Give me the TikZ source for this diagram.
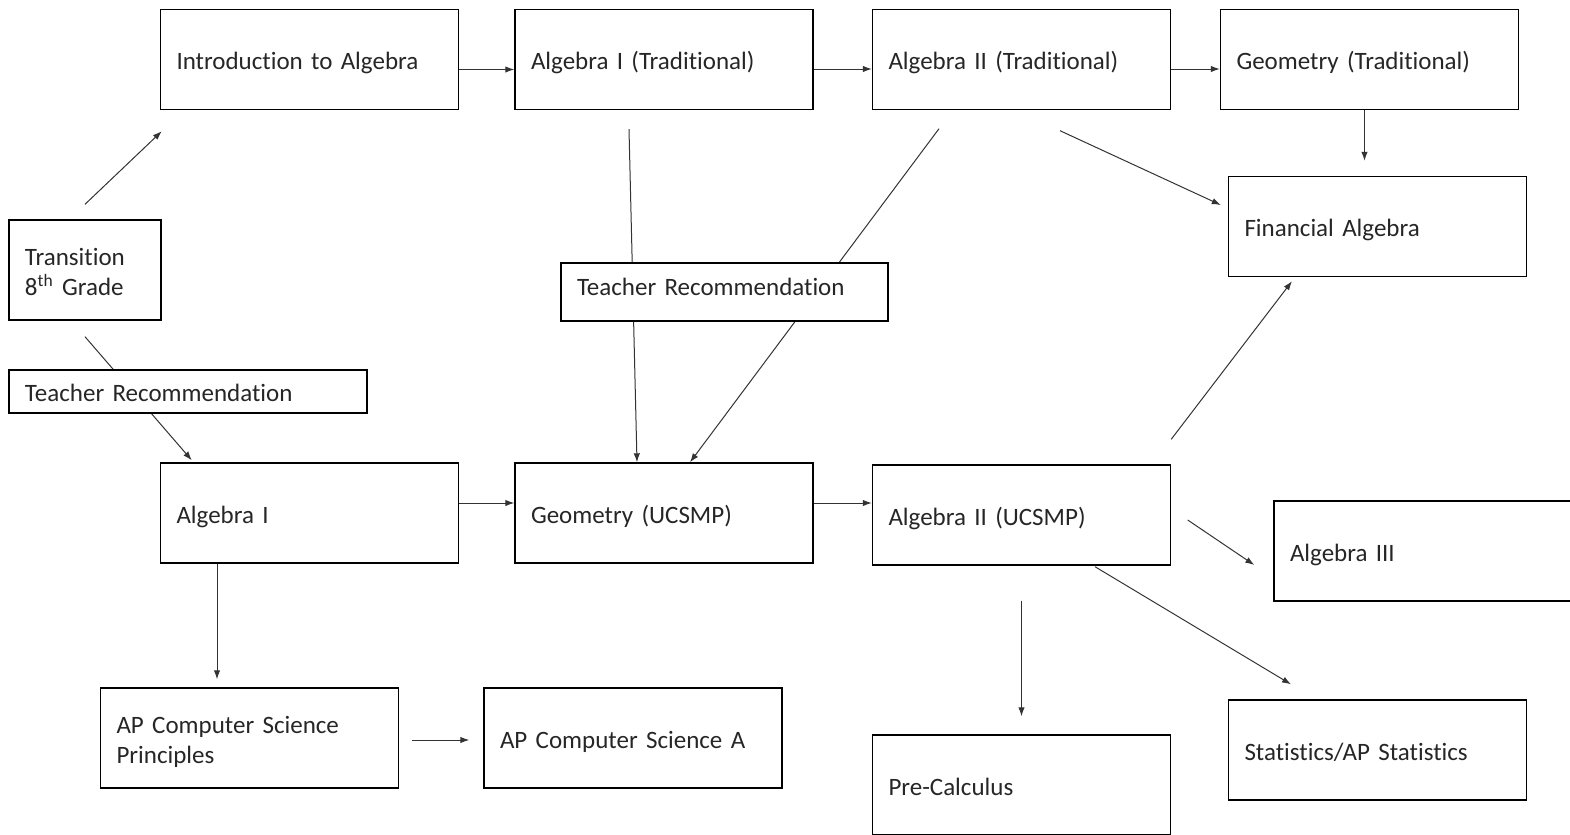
\documentclass[tikz,border=0pt]{standalone}
\usepackage{fontspec}
\setmainfont[Ligatures=NoCommon]{Carlito}
\usetikzlibrary{arrows.meta,calc}

\tikzset{
  course/.style={draw,line width=0.7pt,text=black!85,inner xsep=8pt,inner ysep=0pt,
    text height=10pt,text depth=0pt,
    align=left,text width=133pt,minimum height=50pt,font=\fontsize{12.5}{15}\selectfont},
  twoline/.style={text depth=15pt},
  teach/.style={course,fill=white,minimum height=#1},
  arr/.style={-{Latex[length=4.5pt,width=3.2pt]},line width=0.5pt,black!80}
}

\begin{document}
\begin{tikzpicture}[x=0.5pt,y=-0.5pt]
\clip (0,0) rectangle (1570,835);

% top row
\node[course] (intro) at (309.5,59.5) {Introduction to Algebra};
\node[course] (algtrad) at (664,59.5) {Algebra I (Traditional)};
\node[course] (algtwotrad) at (1021.5,59.5) {Algebra II (Traditional)};
\node[course] (geomtrad) at (1369.5,59.5) {Geometry (Traditional)};
\node[course] (fin) at (1377.5,226.5) {Financial Algebra};

\node[course,twoline,text width=60pt] (trans) at (85,270) {Transition\\8\textsuperscript{th} Grade};

% middle row
\node[course] (algone) at (309.5,513) {Algebra I};
\node[course] (geomucsmp) at (664,513) {Geometry (UCSMP)};
\node[course] (algtwoucsmp) at (1021.5,515) {Algebra II (UCSMP)};
\node[course] (algthree) at (1423,551) {Algebra III};

% bottom row
\node[course,twoline] (apcsp) at (249.5,738) {AP Computer Science\\Principles};
\node[course] (apcsa) at (633,738) {AP Computer Science A};
\node[course] (precalc) at (1021.5,785) {Pre-Calculus};
\node[course] (stats) at (1377.5,750) {Statistics/AP Statistics};

\draw[arr] ($(intro.east)+(0,10)$) -- ($(algtrad.west)+(0,10)$);
\draw[arr] ($(algtrad.east)+(0,9.5)$) -- ($(algtwotrad.west)+(0,9.5)$);
\draw[arr] ($(algtwotrad.east)+(0,9.5)$) -- ($(geomtrad.west)+(0,9.5)$);
\draw[arr] ($(geomtrad.south)+(-5,0)$) -- ($(fin.north)+(-13,-15)$);

\draw[arr] ($(trans.north)+(0,-15)$) -- ($(intro.south west)+(2,21)$);
\draw[arr] ($(trans.south)+(0,16)$) -- ($(algone.north west)+(32,-2)$);

\draw[arr] ($(algtrad.south)+(-35,19)$) -- ($(geomucsmp.north)+(-27,0)$);
\draw[arr] ($(algtwotrad.south)+(-82.5,18.5)$) -- ($(geomucsmp.north)+(26,0)$);
\draw[arr] ($(algtwotrad.south)+(38.5,20.5)$) -- ($(fin.west)+(-7,-21.5)$);

\draw[arr] ($(algone.east)+(0,-10)$) -- ($(geomucsmp.west)+(0,-10)$);
\draw[arr] ($(geomucsmp.east)+(0,-10)$) -- ($(algtwoucsmp.west)+(0,-12)$);

\draw[arr] ($(algtwoucsmp.north east)+(0,-25)$) -- ($(fin.south)+(-85.5,4)$);
\draw[arr] ($(algtwoucsmp.east)+(16.5,5)$) -- ($(algthree.west)+(-19,14)$);
\draw[arr] ($(algtwoucsmp.south)+(73.5,1)$) -- ($(stats.north)+(-86.5,-15)$);
\draw[arr] ($(algtwoucsmp.south)+(0,35)$) -- ($(precalc.north)+(0,-18)$);

\draw[arr] ($(algone.south)+(-92.5,0)$) -- ($(apcsp.north)+(-32.5,-8)$);
\draw[arr] ($(apcsp.east)+(13,2)$) -- ($(apcsa.west)+(-14,2)$);

% recommendation boxes sit over the lines
\node[teach=21.5pt,text width=163pt] (teachone) at (188,391.5) {Teacher Recommendation};
\node[teach=29pt,text width=147.5pt,text depth=7pt] (teachtwo) at (724.5,292) {Teacher Recommendation};

\end{tikzpicture}
\end{document}
